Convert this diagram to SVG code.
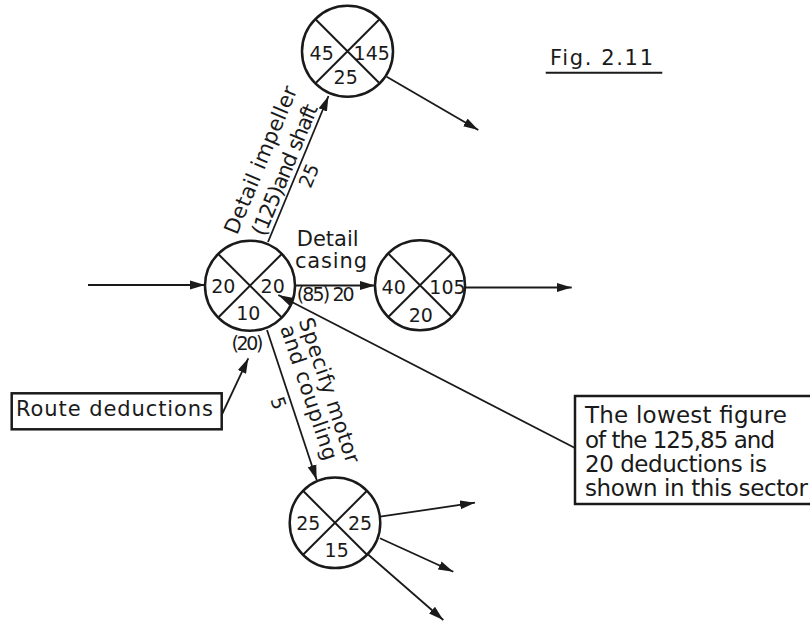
<svg xmlns="http://www.w3.org/2000/svg" width="810" height="623" viewBox="0 0 810 623">
<style>
  .c { fill: none; stroke: #1a1a1a; stroke-width: 2.5; }
  .x { fill: none; stroke: #1a1a1a; stroke-width: 2; }
  .ln { fill: none; stroke: #1a1a1a; stroke-width: 1.8; marker-end: url(#ah); }
  .num { font-family: "DejaVu Sans", "Liberation Sans", sans-serif; font-size: 19px; fill: #1a1a1a; text-anchor: middle; }
  .lbl { font-family: "DejaVu Sans", "Liberation Sans", sans-serif; font-size: 21px; fill: #1a1a1a; }
  .box { font-family: "DejaVu Sans", "Liberation Sans", sans-serif; font-size: 23px; fill: #1a1a1a; }
  .rect { fill: #fff; stroke: #1a1a1a; stroke-width: 2.5; }
</style>
<defs>
  <marker id="ah" markerWidth="16" markerHeight="10" refX="15" refY="5" orient="auto" markerUnits="userSpaceOnUse">
    <path d="M0,0.5 L15,5 L0,9.5 z" fill="#1a1a1a"/>
  </marker>
</defs>
<rect width="810" height="623" fill="#fff"/>

<g id="connectors">
  <line class="ln" x1="88" y1="285" x2="205" y2="285"/>
  <line class="ln" x1="268" y1="242" x2="328.5" y2="96"/>
  <line class="ln" x1="386.7" y1="76.7" x2="478.3" y2="130"/>
  <line class="ln" x1="295" y1="285.5" x2="375" y2="285.5"/>
  <line class="ln" x1="465" y1="287.5" x2="571.7" y2="287.5"/>
  <line class="ln" x1="267" y1="330" x2="316.7" y2="480"/>
  <line class="ln" x1="380" y1="516.7" x2="475" y2="502.7"/>
  <line class="ln" x1="380" y1="538.3" x2="453.3" y2="571.7"/>
  <line class="ln" x1="366.7" y1="553.3" x2="443.3" y2="620"/>
  <line class="ln" x1="575" y1="448" x2="278.3" y2="295"/>
  <line class="ln" x1="221.7" y1="415" x2="248.3" y2="358.3"/>
</g>

<g id="label-impeller" transform="translate(268,242) rotate(-67.5)">
  <text class="lbl" x="-6" y="-31" textLength="158">Detail impeller</text>
  <text class="lbl" x="3" y="-5" textLength="140" font-size="20">(125)and shaft</text>
  <text class="num" x="77" y="19">25</text>
</g>

<g id="label-casing">
  <text class="lbl" x="296.7" y="245.5" font-size="20" textLength="62">Detail</text>
  <text class="lbl" x="295" y="268" font-size="20" textLength="72">casing</text>
  <text class="num" x="296.7" y="301" style="text-anchor:start" textLength="58">(85) 20</text>
</g>

<g id="label-motor" transform="translate(267,330) rotate(71.57)">
  <text class="lbl" x="1" y="-33" textLength="152">Specify motor</text>
  <text class="lbl" x="2" y="-13" textLength="141">and coupling</text>
  <text class="num" x="73" y="19">5</text>
</g>

<g id="node-center">
  <circle class="c" cx="250" cy="285.7" r="45"/>
  <path class="x" d="M218,253.7 L282,317.7 M282,253.7 L218,317.7"/>
  <text class="num" x="223.3" y="292.5">20</text>
  <text class="num" x="272.7" y="292.5">20</text>
  <text class="num" x="248.3" y="320">10</text>
  <text class="num" x="247.5" y="350" textLength="32">(20)</text>
</g>

<g id="node-top">
  <circle class="c" cx="347.5" cy="51.3" r="45.5"/>
  <path class="x" d="M315.5,19.3 L379.5,83.3 M379.5,19.3 L315.5,83.3"/>
  <text class="num" x="321.7" y="60">45</text>
  <text class="num" x="371.7" y="60">145</text>
  <text class="num" x="345.7" y="84">25</text>
</g>

<g id="node-right">
  <circle class="c" cx="420" cy="285.3" r="45"/>
  <path class="x" d="M388,253.3 L452,317.3 M452,253.3 L388,317.3"/>
  <text class="num" x="393.7" y="294">40</text>
  <text class="num" x="447.5" y="294">105</text>
  <text class="num" x="420.8" y="321.7">20</text>
</g>

<g id="node-bottom">
  <circle class="c" cx="335" cy="522.8" r="45.3"/>
  <path class="x" d="M303,490.8 L367,554.8 M367,490.8 L303,554.8"/>
  <text class="num" x="308.3" y="530">25</text>
  <text class="num" x="360" y="530">25</text>
  <text class="num" x="336.7" y="557">15</text>
</g>

<g id="box-route">
  <rect class="rect" x="11.7" y="393.3" width="210" height="36"/>
  <text class="lbl" x="16" y="416" textLength="197">Route deductions</text>
</g>

<g id="box-note">
  <rect class="rect" x="575" y="396" width="240" height="108"/>
  <text class="box" x="585" y="423" textLength="202">The lowest figure</text>
  <text class="box" x="585" y="448" textLength="190">of the 125,85 and</text>
  <text class="box" x="585" y="472" textLength="182">20 deductions is</text>
  <text class="box" x="585" y="496" textLength="223">shown in this sector</text>
</g>

<g id="fig-label">
  <text class="lbl" x="550" y="65" font-size="22" textLength="103">Fig. 2.11</text>
  <line x1="545.7" y1="72.7" x2="662.3" y2="72.7" stroke="#1a1a1a" stroke-width="2"/>
</g>
</svg>
